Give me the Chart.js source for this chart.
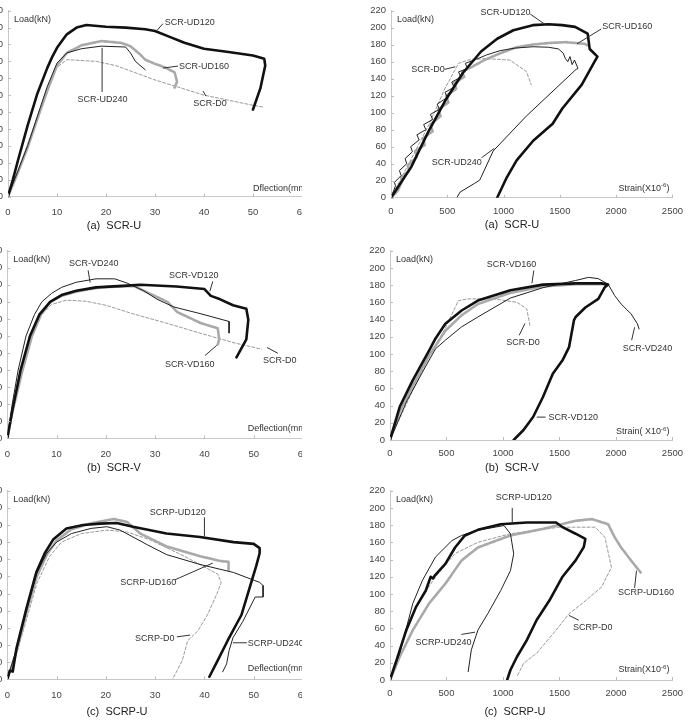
<!DOCTYPE html>
<html>
<head>
<meta charset="utf-8">
<script src="https://cdn.jsdelivr.net/npm/chart.js@4.4.0/dist/chart.umd.min.js"></script>
<style>
body { margin:0; background:#fff; width:691px; height:721px; overflow:hidden; position:relative; font-family:"Liberation Sans", Arial, sans-serif; }
.wrap { position:absolute; overflow:hidden; }
.wrap canvas { position:absolute; top:0; }
.sub { position:absolute; font-size:11px; color:#222; transform:translate(-50%,-50%); white-space:pre; }
</style>
</head>
<body>
<script>
var FF = '"Liberation Sans", Arial, sans-serif';

// axes
var loadMax = 220, loadStep = 20;
var defMax = 60, defStep = 10;
var strainMax = 2500, strainStep = 500;

// (a) SCR-U, load - deflection
var aDef_UD120 = [[0,0],[1,20],[2,42],[4,84],[6,122],[8,152],[9,165],[10,176],[12,192],[14,200],[16,203],[20,201],[24,200],[28,198],[30,196],[33,189],[36,182],[40,175],[45,171],[50,167],[52.3,163],[52.5,155],[51.5,128],[50,103]];
var aDef_UD160 = [[0,0],[1,14],[2,28],[4,58],[6,92],[8,125],[10,155],[12,170],[15,179],[19,184],[23,182],[25,178],[27,168],[28,162],[30,157],[32,153],[34,147],[34.5,136],[34,129]];
var aDef_UD240 = [[0,0],[1,15],[2,30],[4,60],[6,95],[8,130],[10,158],[12,170],[15,175],[19,178],[24,177],[25,170],[26,160],[28,150]];
var aDef_D0 = [[0,0],[2,30],[4,62],[6,95],[8,128],[10,153],[12,162],[18,160],[22,155],[30,138],[40,120],[50,108],[52,106]];

// (a) SCR-U, load - strain
var aStr_UD120 = [[0,0],[179,36],[337,79],[481,114],[640,147],[800,172],[943,187],[1087,197],[1260,203],[1400,204],[1520,203],[1635,201],[1747,193],[1765,175],[1834,166],[1808,160],[1695,133],[1522,105],[1436,87],[1263,67],[1116,44],[1029,24],[943,0]];
var aStr_UD160 = [[0,0],[60,8],[100,20],[90,24],[160,32],[150,38],[230,48],[215,55],[300,62],[285,70],[370,78],[350,86],[440,96],[420,104],[510,112],[490,120],[580,128],[560,135],[650,142],[630,148],[720,154],[830,162],[972,170],[1116,177],[1250,180],[1401,182],[1550,183],[1721,181],[1750,179]];
var aStr_UD240 = [[0,0],[40,14],[30,18],[90,26],[75,32],[140,40],[125,46],[190,54],[175,60],[250,68],[230,74],[310,80],[290,86],[370,92],[350,98],[430,104],[410,110],[500,118],[480,124],[560,130],[540,136],[620,142],[600,148],[680,152],[660,158],[760,163],[850,168],[969,173],[1100,176],[1263,177.6],[1400,177],[1488,175],[1530,170],[1548,164],[1570,160],[1590,166],[1609,156.6],[1630,162],[1661,152],[1644,151],[1202,96],[908,55],[800,24],[787,20.6],[744,17],[614,6.6],[588,0.8]];
var aStr_D0 = [[0,0],[150,38],[337,86],[481,129],[600,158],[683,162],[830,163.6],[1055,162],[1202,148.5],[1246,133]];

// (b) SCR-V, load - deflection
var bDef_VD120 = [[0,0],[1,32],[2.7,80],[4.6,120],[6.5,145],[8.7,160],[11,168],[14,173],[18,177],[24.3,179],[27,180],[34.3,178],[40,175],[41.3,167],[43.2,163],[45.8,156],[48.5,152],[48.9,139],[48.5,116],[46.5,95]];
var bDef_VD160 = [[0,0],[1,30],[3.1,80],[5,120],[6.8,145],[8.7,160],[11,167],[14,172],[18.8,177],[25.7,178.6],[28.4,171],[32.5,160],[34.5,148],[39.3,135],[42.7,129],[43,116],[42.7,110]];
var bDef_VD240 = [[0,0],[1,40],[2.2,80],[3.8,120],[5.5,145],[7,160],[9,170],[11,177],[14,183],[18,187],[21.8,187],[24.3,182],[27.7,173],[30.4,163],[33.8,154],[39.3,146],[45,137],[45,123.5]];
var bDef_D0 = [[0,0],[1,30],[3,78],[5,118],[7,145],[9,157],[12,162],[16,160.7],[20,156],[25.5,146],[32.3,135],[39,123.5],[46,112],[51.6,104.5]];

// (b) SCR-V, load - strain
var bStr_VD120 = [[0,0],[86,38.6],[202,69.5],[346,104],[403,118],[490,135],[634,150.5],[778,162],[1066,174],[1354,180.6],[1643,182],[1873,182],[1931,180.6],[1902,177.6],[1844,164],[1729,154],[1643,143],[1628,139],[1585,108],[1527,92.6],[1441,77],[1354,50],[1268,27],[1182,11.6],[1095,0]];
var bStr_VD160 = [[0,0],[86,33],[202,63],[346,98],[490,127],[634,145],[778,158],[1066,171],[1354,178.5],[1643,181],[1902,181]];
var bStr_VD240 = [[0,0],[144,44],[288,79],[403,106],[490,116],[634,131.5],[778,143],[1066,165],[1354,177],[1643,185.4],[1758,189],[1844,187.5],[1931,181],[1988,168],[2046,158],[2133,146.7],[2190,135],[2205,129]];
var bStr_D0 = [[0,0],[86,25],[202,58],[346,96.5],[490,130],[605,162],[691,164],[922,164],[1124,160],[1210,152.5],[1239,133]];

// (c) SCRP-U, load - deflection
var cDef_UD120 = [[0,0],[0.5,10],[1.1,9],[1.9,37],[3.9,83],[5.9,125],[7.6,147],[9.3,163],[12,176],[15.4,180],[18.8,181.6],[22.2,182.4],[25.5,178],[32.3,170],[39.1,166],[45.9,160],[50,158],[51.2,153],[51.2,147],[50.5,132],[49.5,113],[47.5,75],[44.7,45],[42.7,22],[41,3]];
var cDef_UD160 = [[0,0],[2,35],[4,80],[6,120],[8,145],[10,162],[13,175],[17,182],[21.6,187],[24.3,183.5],[27,170],[32.3,155],[39.1,143.6],[43.2,138],[44.9,137],[44.9,126.5]];
var cDef_UD240 = [[0,0],[2,38],[4,84],[6,124],[8,147],[10,160],[13,170],[17,176],[20.2,178],[22.9,174],[25.5,166],[28.4,157],[32.3,145.5],[39.1,134],[45.9,124.6],[51.2,113],[51.9,109.4],[51.9,96],[50.3,96],[47.8,67.6],[45.8,48.6],[45,33.4],[44.5,18],[43.7,8.7]];
var cDef_D0 = [[0,0],[2,32],[4,72],[6,112],[8.6,143.6],[11,160],[15,170],[20.2,174],[24.2,172],[29,162.6],[35.9,143.6],[42.7,122.7],[43.4,113],[42.7,102],[40.6,75],[38.6,56],[36.6,45],[35.5,22],[34.5,10.6],[33.5,0]];

// (c) SCRP-U, load - strain
var cStr_UD120 = [[0,0],[58,23],[144,58],[231,85],[317,104],[360,120],[380,118],[400,122],[490,135],[576,154],[663,168],[778,174.5],[980,181],[1210,183],[1470,183],[1527,177.6],[1643,170],[1729,164],[1715,154.4],[1643,139],[1527,120],[1412,92.6],[1297,69.5],[1210,46],[1124,27],[1066,11.6],[1037,0]];
var cStr_UD160 = [[0,0],[86,27],[202,58],[346,89],[490,112],[634,139],[778,154],[1066,168],[1354,175.6],[1643,185],[1787,187],[1931,181],[1988,166],[2046,154],[2133,139],[2219,125]];
var cStr_UD240 = [[0,0],[86,31],[202,89],[288,116],[403,143],[548,162],[634,168],[778,174],[1009,179.5],[1066,170],[1095,146.7],[1066,127],[980,104],[865,77],[778,58],[720,35],[692,9.7]];
var cStr_D0 = [[0,0],[100,40],[250,90],[403,120],[576,147],[778,160],[1066,170],[1499,177.6],[1816,177.6],[1902,166],[1960,131],[1873,108],[1700,88.8],[1585,77],[1470,58],[1297,31],[1182,19.3],[1124,3.9]];

// callout labels (text at, leader from -> to), in data units
var aDefLabels = [
  { text:'SCR-UD120', at:[32,205.8], from:[30.4,196.6], to:[31.6,204.6] },
  { text:'SCR-UD160', at:[34.9,154.5], from:[31.6,152], to:[34.7,154.5] },
  { text:'SCR-UD240', at:[14.2,114.6], from:[19.2,176], to:[19.2,123.7] },
  { text:'SCR-D0', at:[37.8,110], from:[39.8,124.8], to:[40.4,119] }
];
var aStrLabels = [
  { text:'SCR-UD120', at:[796,218], from:[1237,216], to:[1367,204] },
  { text:'SCR-UD160', at:[1877,201], from:[1868,198.5], to:[1652,181] },
  { text:'SCR-D0', at:[180,151], from:[476,151], to:[571,154] },
  { text:'SCR-UD240', at:[363,41.5], from:[804,47], to:[917,58] }
];
var bDefLabels = [
  { text:'SCR-VD240', at:[12.5,205], from:[16.4,197], to:[16.8,182.6] },
  { text:'SCR-VD120', at:[32.8,191], from:[41.7,184], to:[41.1,172.5] },
  { text:'SCR-VD160', at:[32,86], from:[40.1,97], to:[42.5,109] },
  { text:'SCR-D0', at:[51.9,91.7], from:[52.7,106.5], to:[54.9,99.7] }
];
var bStrLabels = [
  { text:'SCR-VD160', at:[857,203.8], from:[1273,197], to:[1256,182] },
  { text:'SCR-D0', at:[1030,113.5], from:[1143,121.6], to:[1195,135.5] },
  { text:'SCR-VD240', at:[2061,106.5], from:[2139,116], to:[2165,131] },
  { text:'SCR-VD120', at:[1403,26.6], from:[1299,26.6], to:[1377,26.6] }
];
var cDefLabels = [
  { text:'SCRP-UD120', at:[28.9,195], from:[40,189], to:[40,166.6] },
  { text:'SCRP-UD160', at:[22.9,113], from:[34,116], to:[41.7,135.6] },
  { text:'SCRP-D0', at:[25.9,48], from:[34.4,49.5], to:[37.1,51.6] },
  { text:'SCRP-UD240', at:[48.8,41.4], from:[45.8,42.6], to:[48.6,42.6] }
];
var cStrLabels = [
  { text:'SCRP-UD120', at:[935,212], from:[1082,200], to:[1082,183] },
  { text:'SCRP-UD160', at:[2018,102], from:[2165,107], to:[2182,127] },
  { text:'SCRP-D0', at:[1619,61], from:[1671,69.5], to:[1585,75] },
  { text:'SCRP-UD240', at:[225,43], from:[632,53], to:[753,55.6] }
];

var styles = {
  thick: { borderColor:'#111', borderWidth:2.6, borderDash:[], order:0 },
  thin:  { borderColor:'#222', borderWidth:1, borderDash:[], order:1 },
  gray:  { borderColor:'#a9a9a9', borderWidth:2.6, borderDash:[3,1], order:2 },
  dash:  { borderColor:'#9a9a9a', borderWidth:1, borderDash:[3,2], order:3 }
};

var decor = {
  id: 'decor',
  afterDatasetsDraw: function(chart, args, opts) {
    var ctx = chart.ctx, xs = chart.scales.x, ys = chart.scales.y, a = chart.chartArea;
    ctx.save();
    ctx.strokeStyle = '#bdbdbd';
    ctx.lineWidth = 1;
    ctx.setLineDash([]);
    xs.ticks.forEach(function(t) {
      var px = Math.round(xs.getPixelForValue(t.value)) + 0.5;
      ctx.beginPath(); ctx.moveTo(px, a.bottom); ctx.lineTo(px, a.bottom - 3); ctx.stroke();
    });
    ys.ticks.forEach(function(t) {
      var py = Math.round(ys.getPixelForValue(t.value)) + 0.5;
      ctx.beginPath(); ctx.moveTo(a.left, py); ctx.lineTo(a.left + 3, py); ctx.stroke();
    });

    ctx.fillStyle = '#333';
    ctx.font = '9px ' + FF;
    ctx.textBaseline = 'middle';
    ctx.textAlign = 'left';
    ctx.fillText('Load(kN)', a.left + 6, a.top + 9);

    // axis note at bottom right
    var ny = a.bottom - opts.noteDy;
    if (opts.noteSup) {
      var w1 = ctx.measureText(opts.note).width;
      ctx.font = '6px ' + FF;
      var w2 = ctx.measureText(opts.noteSup).width;
      ctx.font = '9px ' + FF;
      var w3 = ctx.measureText(')').width;
      var x0 = a.right - 3 - w1 - w2 - w3;
      ctx.fillText(opts.note, x0, ny);
      ctx.font = '6px ' + FF;
      ctx.fillText(opts.noteSup, x0 + w1, ny - 3);
      ctx.font = '9px ' + FF;
      ctx.fillText(')', x0 + w1 + w2, ny);
    } else {
      ctx.fillText(opts.note, xs.getPixelForValue(opts.noteX), ny);
    }

    ctx.strokeStyle = '#333';
    opts.labels.forEach(function(l) {
      ctx.beginPath();
      ctx.moveTo(xs.getPixelForValue(l.from[0]), ys.getPixelForValue(l.from[1]));
      ctx.lineTo(xs.getPixelForValue(l.to[0]), ys.getPixelForValue(l.to[1]));
      ctx.stroke();
      ctx.fillText(l.text, xs.getPixelForValue(l.at[0]), ys.getPixelForValue(l.at[1]));
    });
    ctx.restore();
  }
};

var leftCanvas = { x:-40, w:370 };
var rightCanvas = { x:330, w:361 };

var panels = [
  { series:[aDef_UD120,aDef_UD160,aDef_UD240,aDef_D0], names:['SCR-UD120','SCR-UD160','SCR-UD240','SCR-D0'], kinds:['thick','gray','thin','dash'],
    labels:aDefLabels, xmax:defMax, xstep:defStep, cv:leftCanvas, top:0, clipW:302, area:{L:8,R:302,T:3.5,B:196.5}, xpad:10,
    note:'Dflection(mm)', noteX:50, noteDy:8, sub:'(a)  SCR-U', subX:114, subY:225 },
  { series:[aStr_UD120,aStr_UD160,aStr_UD240,aStr_D0], names:['SCR-UD120','SCR-UD160','SCR-UD240','SCR-D0'], kinds:['thick','gray','thin','dash'],
    labels:aStrLabels, xmax:strainMax, xstep:strainStep, cv:rightCanvas, top:0, clipW:361, area:{L:391,R:680,T:8.5,B:197.7}, xpad:8,
    note:'Strain(X10', noteSup:'-6', noteDy:9, sub:'(a)  SCR-U', subX:512, subY:224 },
  { series:[bDef_VD120,bDef_VD160,bDef_VD240,bDef_D0], names:['SCR-VD120','SCR-VD160','SCR-VD240','SCR-D0'], kinds:['thick','gray','thin','dash'],
    labels:bDefLabels, xmax:defMax, xstep:defStep, cv:leftCanvas, top:240, clipW:302, area:{L:7.3,R:303,T:245.4,B:438.3}, xpad:10,
    note:'Deflection(mm)', noteX:48.8, noteDy:10, sub:'(b)  SCR-V', subX:114, subY:467 },
  { series:[bStr_VD120,bStr_VD160,bStr_VD240,bStr_D0], names:['SCR-VD120','SCR-VD160','SCR-VD240','SCR-D0'], kinds:['thick','gray','thin','dash'],
    labels:bStrLabels, xmax:strainMax, xstep:strainStep, cv:rightCanvas, top:240, clipW:361, area:{L:390,R:679.3,T:250,B:440}, xpad:8,
    note:'Strain( X10', noteSup:'-6', noteDy:8, sub:'(b)  SCR-V', subX:512, subY:467 },
  { series:[cDef_UD120,cDef_UD160,cDef_UD240,cDef_D0], names:['SCRP-UD120','SCRP-UD160','SCRP-UD240','SCRP-D0'], kinds:['thick','gray','thin','dash'],
    labels:cDefLabels, xmax:defMax, xstep:defStep, cv:leftCanvas, top:480, clipW:302, area:{L:7.3,R:303,T:486.4,B:679.3}, xpad:10,
    note:'Deflection(mm)', noteX:48.8, noteDy:11, sub:'(c)  SCRP-U', subX:117, subY:711 },
  { series:[cStr_UD120,cStr_UD160,cStr_UD240,cStr_D0], names:['SCRP-UD120','SCRP-UD160','SCRP-UD240','SCRP-D0'], kinds:['thick','gray','thin','dash'],
    labels:cStrLabels, xmax:strainMax, xstep:strainStep, cv:rightCanvas, top:480, clipW:361, area:{L:390,R:679,T:490,B:680}, xpad:8,
    note:'Strain(X10', noteSup:'-6', noteDy:10, sub:'(c)  SCRP-U', subX:515, subY:711 }
];

function plainTick(v) { return String(v); }

function makePanel(p) {
  var H = 241, yw = 40, xh = 30;
  var wrap = document.createElement('div');
  wrap.className = 'wrap';
  var wl = p.cv.x < 0 ? 0 : p.cv.x;
  wrap.style.left = wl + 'px';
  wrap.style.top = p.top + 'px';
  wrap.style.width = p.clipW + 'px';
  wrap.style.height = H + 'px';
  var cv = document.createElement('canvas');
  cv.width = p.cv.w; cv.height = H;
  cv.style.left = (p.cv.x - wl) + 'px';
  wrap.appendChild(cv);
  document.body.appendChild(wrap);

  var sub = document.createElement('div');
  sub.className = 'sub';
  sub.textContent = p.sub;
  sub.style.left = p.subX + 'px';
  sub.style.top = p.subY + 'px';
  document.body.appendChild(sub);

  var pad = {
    left: p.area.L - p.cv.x - yw,
    right: p.cv.x + p.cv.w - p.area.R,
    top: p.area.T - p.top,
    bottom: p.top + H - p.area.B - xh
  };

  var datasets = p.series.map(function(s, i) {
    var st = styles[p.kinds[i]];
    return {
      label: p.names[i],
      data: s.map(function(pt) { return { x: pt[0], y: pt[1] }; }),
      showLine: true, fill: false, pointRadius: 0, tension: 0,
      borderColor: st.borderColor, borderWidth: st.borderWidth, borderDash: st.borderDash, order: st.order,
      borderJoinStyle: 'round', borderCapStyle: 'round'
    };
  });

  var tickFont = { size: 9.5, family: FF };
  new Chart(cv.getContext('2d'), {
    type: 'scatter',
    data: { datasets: datasets },
    options: {
      responsive: false, animation: false, devicePixelRatio: 1,
      layout: { padding: pad },
      plugins: { legend: { display: false }, tooltip: { enabled: false },
        decor: { labels: p.labels, note: p.note, noteSup: p.noteSup, noteX: p.noteX, noteDy: p.noteDy } },
      scales: {
        x: { type: 'linear', min: 0, max: p.xmax,
          ticks: { stepSize: p.xstep, padding: p.xpad, color: '#444', font: tickFont, maxRotation: 0, autoSkip: false, callback: plainTick },
          grid: { display: true, drawOnChartArea: false, drawTicks: false },
          border: { color: '#c8c8c8', width: 1 },
          afterFit: function(s) { s.height = xh; } },
        y: { type: 'linear', min: 0, max: loadMax,
          ticks: { stepSize: loadStep, padding: 5, color: '#444', font: tickFont, autoSkip: false, callback: plainTick },
          grid: { display: true, drawOnChartArea: false, drawTicks: false },
          border: { color: '#c8c8c8', width: 1 },
          afterFit: function(s) { s.width = yw; } }
      }
    },
    plugins: [decor]
  });
}

panels.forEach(makePanel);
</script>
</body>
</html>
